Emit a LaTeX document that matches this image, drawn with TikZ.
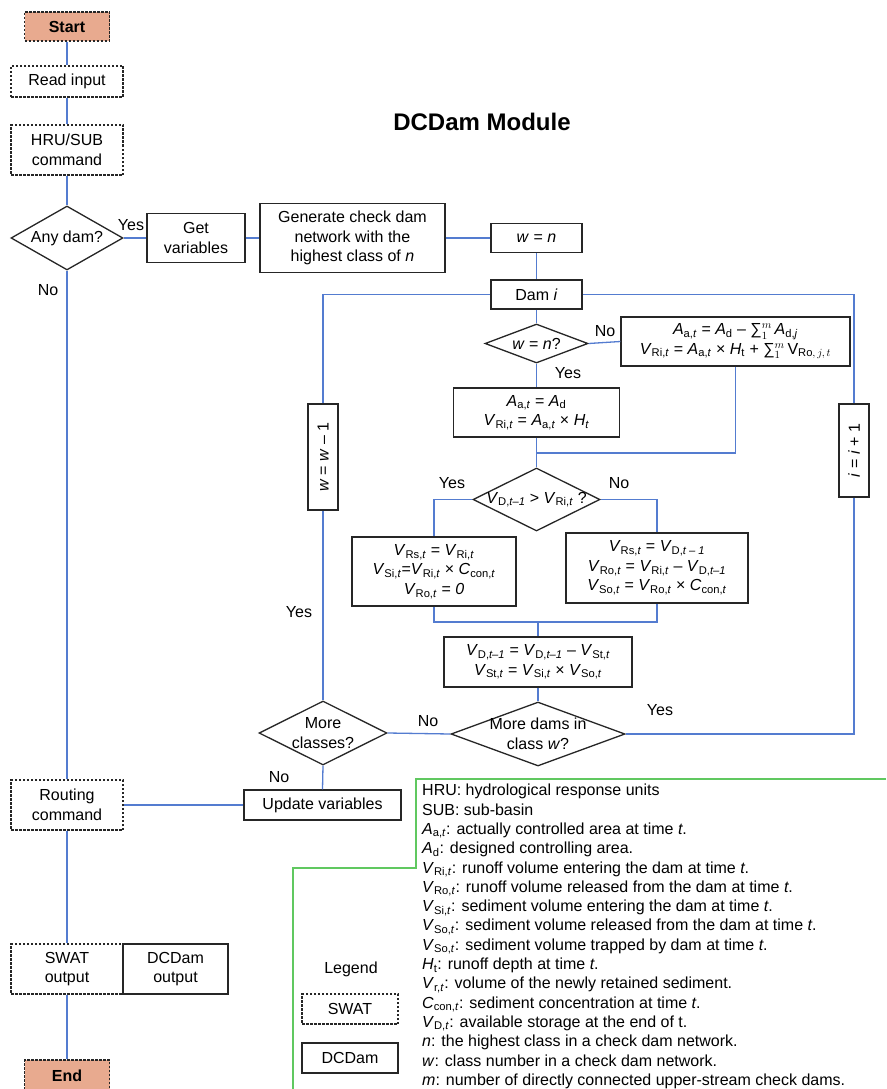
\documentclass[tikz,border=0pt]{standalone}
\usepackage{fontspec}
\usepackage{graphicx}
\setmainfont{Liberation Sans}
\usetikzlibrary{shapes.geometric}
\definecolor{flowblue}{RGB}{84,124,208}
\definecolor{salmon}{RGB}{232,170,143}
\definecolor{legendgreen}{RGB}{96,200,96}
\newcommand\xs[3]{\textit{#1}\textsubscript{#2,\textit{#3}}}
\newcommand\xd[2]{\textit{#1}\textsubscript{#2}}
\newcommand\msum{∑$_{1}^{m}$}
\begin{document}
\begin{tikzpicture}[x=1pt,y=-1pt,
  font=\fontsize{16}{19.5}\selectfont,
  box/.style={draw=black!85, line width=1.3pt, inner sep=0pt, align=center},
  swatbox/.style={box, dash pattern=on 2.5pt off 1.5pt},
  termbox/.style={swatbox, fill=salmon, font=\fontsize{16}{19.5}\selectfont\bfseries},
  decision/.style={draw=black!85, line width=1.3pt, diamond, inner sep=0pt},
  flow/.style={draw=flowblue, line width=1.3pt},
  lbl/.style={inner sep=0pt}]
\useasboundingbox (0,0) rectangle (886,1089);
\fill[white] (0,0) rectangle (886,1089);

% title
\node[font=\fontsize{24}{29}\selectfont\bfseries] (title) at (482,122) {DCDam Module};

% SWAT main column
\node[termbox, minimum width=85pt, minimum height=29pt] (start) at (67,26.5) {Start};
\node[swatbox, minimum width=112pt, minimum height=31pt] (read) at (67,81.5) {Read input};
\node[swatbox, minimum width=112pt, minimum height=50pt] (hru) at (67,150) {HRU/SUB\\command};
\node[decision, minimum width=112pt, minimum height=64pt, label={center:Any dam?}] (anydam) at (67,238) {};
\node[swatbox, minimum width=112pt, minimum height=50pt] (routing) at (67,805) {Routing\\command};
\node[swatbox, minimum width=112pt, minimum height=50pt] (swat) at (67,969) {SWAT\\output};
\node[box, minimum width=105pt, minimum height=50pt] (dcout) at (175.5,969) {DCDam\\output};
\node[termbox, minimum width=85pt, minimum height=31pt] (end) at (67,1075.5) {End};

% DCDam module
\node[box, minimum width=98pt, minimum height=49pt] (getvar) at (196,238) {Get\\variables};
\node[box, minimum width=185pt, minimum height=69pt] (gen) at (352.5,238) {Generate check dam\\network with the\\highest class of \textit{n}};
\node[box, minimum width=91pt, minimum height=29pt] (wn) at (536.5,238) {\textit{w} = \textit{n}};
\node[box, minimum width=91pt, minimum height=29pt] (dami) at (536.5,294.5) {Dam \textit{i}};
\node[decision, minimum width=103pt, minimum height=39pt, label={center:\textit{w} = \textit{n}?}] (wnq) at (536.5,343.5) {};
\node[box, minimum width=229pt, minimum height=49pt] (ra) at (735.5,341.5)
  {\xs{A}{a}{t} = \xd{A}{d} – \msum\,\xd{A}{d,\textit{j}}\\
   \xs{V}{Ri}{t} = \xs{A}{a}{t} × \xd{H}{t} + \msum\,$\mathrm{V}_{\mathrm{Ro},\,j,\,t}$};
\node[box, minimum width=166pt, minimum height=49pt] (ya) at (536.5,412.5)
  {\xs{A}{a}{t} = \xd{A}{d}\\ \xs{V}{Ri}{t} = \xs{A}{a}{t} × \xd{H}{\textit{t}}};
\node[decision, minimum width=127pt, minimum height=63pt, label={center:\xs{V}{D}{t–1} > \xs{V}{Ri}{t} ?}] (vdq) at (536.5,499.5) {};
\node[box, minimum width=164pt, minimum height=69pt] (lb) at (434,571.5)
  {\xs{V}{Rs}{t} = \xs{V}{Ri}{t}\\ \xs{V}{Si}{t}=\xs{V}{Ri}{t} × \xs{C}{con}{t}\\ \xs{V}{Ro}{t} = \textit{0}};
\node[box, minimum width=182pt, minimum height=70pt] (rb) at (657,568)
  {\xs{V}{Rs}{t} = \xs{V}{D}{t – 1}\\ \xs{V}{Ro}{t} = \xs{V}{Ri}{t} – \xs{V}{D}{t–1}\\ \xs{V}{So}{t} = \xs{V}{Ro}{t} × \xs{C}{con}{t}};
\node[box, minimum width=188pt, minimum height=50pt] (vd) at (538,662)
  {\xs{V}{D}{t–1} = \xs{V}{D}{t–1} – \xs{V}{St}{t}\\ \xs{V}{St}{t} = \xs{V}{Si}{t} × \xs{V}{So}{t}};
\node[decision, minimum width=174pt, minimum height=64pt, label={[align=center]center:More dams in\\class \textit{w}?}] (md) at (538,734) {};
\node[decision, minimum width=128pt, minimum height=64pt, label={[align=center]center:More\\classes?}] (mc) at (323,733) {};
\node[box, minimum width=30pt, minimum height=106pt] (wm) at (323,457) {\rotatebox{90}{\textit{w} = \textit{w} – 1}};
\node[box, minimum width=30pt, minimum height=93pt] (ip) at (854,450.5) {\rotatebox{90}{\textit{i} = \textit{i} + 1}};
\node[box, minimum width=157pt, minimum height=30pt] (up) at (322.5,805) {Update variables};

% connectors
\draw[flow] (start.south) -- (read.north);
\draw[flow] (read.south) -- (hru.north);
\draw[flow] (hru.south) -- (anydam.north);
\draw[flow] (anydam.south) -- (routing.north);
\draw[flow] (routing.south) -- (swat.north);
\draw[flow] (swat.south) -- (end.north);
\draw[flow] (anydam.east) -- (getvar.west);
\draw[flow] (getvar.east) -- (gen.west);
\draw[flow] (gen.east) -- (wn.west);
\draw[flow] (wn.south) -- (dami.north);
\draw[flow] (dami.south) -- (wnq.north);
\draw[flow] (wnq.east) -- (ra.west);
\draw[flow] (wnq.south) -- (ya.north);
\coordinate (mg1) at (536.5,453);
\draw[flow] (ra.south) |- (mg1);
\draw[flow] (ya.south) -- (vdq.north);
\draw[flow] (vdq.west) -| (lb.north);
\draw[flow] (vdq.east) -| (rb.north);
\coordinate (mg2) at (538,622);
\draw[flow] (lb.south) |- (mg2) -| (rb.south);
\draw[flow] (mg2) -- (vd.north);
\draw[flow] (vd.south) -- (md.north);
\draw[flow] (md.west) -- (mc.east);
\draw[flow] (md.east) -| (ip.south);
\draw[flow] (ip.north) |- (dami.east);
\draw[flow] (mc.north) -- (wm.south);
\draw[flow] (wm.north) |- (dami.west);
\draw[flow] (mc.south) -- (up.north);
\draw[flow] (up.west) -- (routing.east);

% connector labels
\node[lbl] (l1) at (131,225) {Yes};
\node[lbl] (l2) at (48,290) {No};
\node[lbl] (l3) at (605,331) {No};
\node[lbl] (l4) at (568,373) {Yes};
\node[lbl] (l5) at (452,483) {Yes};
\node[lbl] (l6) at (619,483) {No};
\node[lbl] (l7) at (299,612) {Yes};
\node[lbl] (l8) at (428,721) {No};
\node[lbl] (l9) at (660,710) {Yes};
\node[lbl] (l10) at (279,777) {No};

% legend
\draw[legendgreen, line width=1.2pt] (886,779) -- (416,779) -- (416,868) -- (293,868) -- (293,1095);
\node (legend) at (351,969) {Legend};
\node[swatbox, minimum width=96pt, minimum height=30pt] (lgswat) at (350,1009) {SWAT};
\node[box, minimum width=96pt, minimum height=30pt] (lgdc) at (350,1058) {DCDam};
\node[anchor=north west, align=left, inner sep=0pt, font=\fontsize{16}{19.3}\selectfont] (defs) at (422,784) {%
HRU: hydrological response units\\
SUB: sub-basin\\
\xs{A}{a}{t}: actually controlled area at time \textit{t}.\\
\xd{A}{d}: designed controlling area.\\
\xs{V}{Ri}{t}: runoff volume entering the dam at time \textit{t}.\\
\xs{V}{Ro}{t}: runoff volume released from the dam at time \textit{t}.\\
\xs{V}{Si}{t}: sediment volume entering the dam at time \textit{t}.\\
\xs{V}{So}{t}: sediment volume released from the dam at time \textit{t}.\\
\xs{V}{So}{t}: sediment volume trapped by dam at time \textit{t}.\\
\xd{H}{t}: runoff depth at time \textit{t}.\\
\xs{V}{r}{t}: volume of the newly retained sediment.\\
\xs{C}{con}{t}: sediment concentration at time \textit{t}.\\
\xs{V}{D}{t}: available storage at the end of t.\\
\textit{n}: the highest class in a check dam network.\\
\textit{w}: class number in a check dam network.\\
\textit{m}: number of directly connected upper-stream check dams.};
\end{tikzpicture}
\end{document}
